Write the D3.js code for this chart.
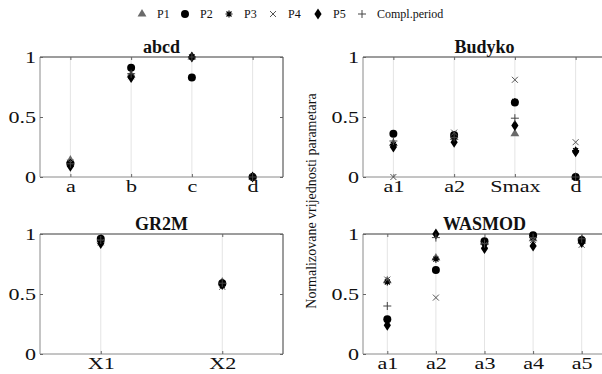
<!DOCTYPE html>
<html>
<head>
<meta charset="utf-8">
<script src="https://cdn.jsdelivr.net/npm/d3@7"></script>
<style>
  body { margin: 0; background: #fff; }
  svg { display: block; }
  .grid line { stroke: #e4e4e4; }
</style>
</head>
<body>
<div class="chart"></div>
<script>
// series drawn in every panel, in plotting order
const seriesNames = ["P1", "P2", "P3", "P4", "P5", "Compl.period"];

// abcd model
const abcdParams = ["a", "b", "c", "d"];
const abcdValues = [
  [0.14, 0.85, 1.00, 0.00],   // P1
  [0.11, 0.91, 0.83, 0.00],   // P2
  [0.12, 0.84, 1.00, 0.00],   // P3
  [0.12, 0.84, 1.00, 0.00],   // P4
  [0.09, 0.83, 1.00, 0.00],   // P5
  [0.11, 0.86, 1.00, 0.00]    // Compl.period
];

// Budyko model
const budykoParams = ["a1", "a2", "Smax", "d"];
const budykoValues = [
  [0.28, 0.33, 0.36, 0.00],
  [0.36, 0.35, 0.62, 0.00],
  [0.27, 0.34, 0.63, 0.22],
  [0.00, 0.37, 0.81, 0.29],
  [0.25, 0.29, 0.43, 0.21],
  [0.30, 0.33, 0.49, 0.00]
];

// GR2M model
const gr2mParams = ["X1", "X2"];
const gr2mValues = [
  [0.95, 0.60],
  [0.96, 0.59],
  [0.94, 0.57],
  [0.93, 0.56],
  [0.92, 0.58],
  [0.95, 0.59]
];

// WASMOD model
const wasmodParams = ["a1", "a2", "a3", "a4", "a5"];
const wasmodValues = [
  [0.61, 0.80, 0.93, 0.96, 0.94],
  [0.29, 0.70, 0.94, 0.99, 0.95],
  [0.60, 0.79, 0.92, 0.97, 0.94],
  [0.62, 0.47, 0.91, 0.95, 0.91],
  [0.24, 1.00, 0.88, 0.90, 0.93],
  [0.40, 0.97, 0.92, 0.97, 0.96]
];

const yTicks = [0, 0.5, 1];

const serif = "'Liberation Serif', 'Times New Roman', serif";
const width = 602, height = 374;
const panelW = 243, panelH = 120;

const panels = [
  { title: "abcd",   params: abcdParams,   values: abcdValues,   left: 40,  top: 57 },
  { title: "Budyko", params: budykoParams, values: budykoValues, left: 363, top: 57 },
  { title: "GR2M",   params: gr2mParams,   values: gr2mValues,   left: 40,  top: 234 },
  { title: "WASMOD", params: wasmodParams, values: wasmodValues, left: 363, top: 234 }
];

// marker path generators, centred on 0,0
const markers = [
  { fill: "#6a6a6a", stroke: "none", d: d3.symbol(d3.symbolTriangle, 34)() },
  { fill: "#000", stroke: "none", d: d3.symbol(d3.symbolCircle, 50)() },
  { fill: "none", stroke: "#000", width: 1.2, d: "M-3.5,0H3.5M0,-3.5V3.5M-2.5,-2.5L2.5,2.5M-2.5,2.5L2.5,-2.5" },
  { fill: "none", stroke: "#555", width: 1, d: "M-3,-3L3,3M-3,3L3,-3" },
  { fill: "#000", stroke: "none", d: "M0,-5.5L3.6,0L0,5.5L-3.6,0Z" },
  { fill: "none", stroke: "#444", width: 1, d: "M-4,0H4M0,-4V4" }
];

const svg = d3.select(".chart").append("svg")
  .attr("width", width)
  .attr("height", height)
  .attr("viewBox", `0 0 ${width} ${height}`)
  .style("font-family", serif);

svg.append("rect").attr("width", width).attr("height", height).attr("fill", "#fff");

// the source figure's tick text is stretched sideways, so widen the labels a bit
function styleAxis(sel) {
  sel.attr("font-family", serif).attr("font-size", 17);
  sel.select(".domain").remove();
  sel.selectAll(".tick line").attr("stroke", "#666");
  sel.selectAll(".tick text").attr("fill", "#111")
    .attr("transform", "scale(1.3,1)")
    .style("font-family", serif).style("font-size", "17px");
}

panels.forEach(p => {
  const n = p.params.length;
  const x = d3.scaleLinear().domain([0.5, n + 0.5]).range([p.left, p.left + panelW]);
  const y = d3.scaleLinear().domain([0, 1]).range([p.top + panelH, p.top]);
  const g = svg.append("g");

  // vertical grid lines at each parameter
  g.append("g").attr("class", "grid")
    .selectAll("line")
    .data(d3.range(1, n + 1))
    .join("line")
    .attr("x1", d => x(d)).attr("x2", d => x(d))
    .attr("y1", y(0)).attr("y2", y(1));

  // box (left/bottom lighter, top/right darker)
  g.append("line").attr("x1", x.range()[0]).attr("x2", x.range()[1])
    .attr("y1", y(0)).attr("y2", y(0)).attr("stroke", "#8a8a8a");
  g.append("line").attr("x1", x.range()[0]).attr("x2", x.range()[0])
    .attr("y1", y(0)).attr("y2", y(1)).attr("stroke", "#8a8a8a");
  g.append("line").attr("x1", x.range()[0]).attr("x2", x.range()[1])
    .attr("y1", y(1)).attr("y2", y(1)).attr("stroke", "#3a3a3a");
  g.append("line").attr("x1", x.range()[1]).attr("x2", x.range()[1])
    .attr("y1", y(0)).attr("y2", y(1)).attr("stroke", "#3a3a3a");

  // axes with inward ticks
  g.append("g")
    .attr("transform", `translate(${p.left},0)`)
    .call(d3.axisLeft(y).tickValues(yTicks).tickFormat(d => d)
      .tickSizeInner(-3).tickSizeOuter(0).tickPadding(3))
    .call(styleAxis);
  g.append("g")
    .attr("transform", `translate(0,${y(0)})`)
    .call(d3.axisBottom(x).tickValues(d3.range(1, n + 1)).tickFormat((d, i) => p.params[i])
      .tickSizeInner(-3).tickSizeOuter(0).tickPadding(3))
    .call(styleAxis);
  g.append("g")
    .attr("transform", `translate(${p.left + panelW},0)`)
    .call(d3.axisRight(y).tickValues(yTicks).tickFormat("")
      .tickSizeInner(-3).tickSizeOuter(0))
    .call(styleAxis);
  g.append("g")
    .attr("transform", `translate(0,${y(1)})`)
    .call(d3.axisTop(x).tickValues(d3.range(1, n + 1)).tickFormat("")
      .tickSizeInner(-3).tickSizeOuter(0))
    .call(styleAxis);

  // title
  g.append("text")
    .attr("x", p.left + panelW / 2)
    .attr("y", p.top - 4)
    .attr("text-anchor", "middle")
    .attr("font-weight", "bold")
    .attr("font-size", 18)
    .attr("fill", "#111")
    .text(p.title);

  // points, one group per series
  p.values.forEach((vals, si) => {
    const m = markers[si];
    g.append("g")
      .selectAll("path")
      .data(vals)
      .join("path")
      .attr("transform", (d, i) => `translate(${x(i + 1)},${y(d)})`)
      .attr("d", m.d)
      .attr("fill", m.fill)
      .attr("stroke", m.stroke)
      .attr("stroke-width", m.width || 0);
  });
});

// shared y-axis label
svg.append("text")
  .attr("transform", "translate(316,201) rotate(-90)")
  .attr("text-anchor", "middle")
  .attr("font-size", 14)
  .attr("fill", "#111")
  .text("Normalizovane vrijednosti parametara");

// legend across the top
const legendX = [142, 185, 229, 273, 318, 362];
const legend = svg.append("g");
seriesNames.forEach((name, i) => {
  const m = markers[i];
  legend.append("path")
    .attr("transform", `translate(${legendX[i]},14)`)
    .attr("d", m.d)
    .attr("fill", m.fill)
    .attr("stroke", m.stroke)
    .attr("stroke-width", m.width || 0);
  legend.append("text")
    .attr("x", legendX[i] + 15)
    .attr("y", 18)
    .attr("font-size", 12)
    .attr("fill", "#111")
    .text(name);
});
</script>
</body>
</html>
